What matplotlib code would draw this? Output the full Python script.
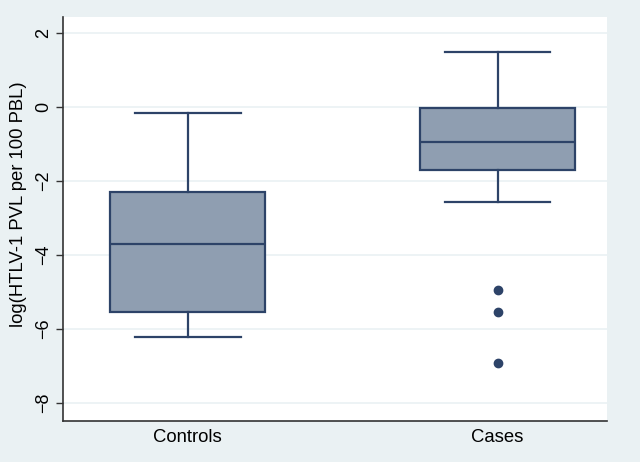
import matplotlib
matplotlib.use('Agg')
import matplotlib.pyplot as plt

# values (log scale)
groups = ['Controls', 'Cases']
whislo = [-6.22, -2.56]
q1 = [-5.53, -1.71]
med = [-3.70, -0.96]
q3 = [-2.31, -0.03]
whishi = [-0.16, 1.49]
outliers = [[], [-4.96, -5.53, -6.91]]
yticks = [2, 0, -2, -4, -6, -8]

bg = '#EAF1F3'
navy = '#2D4368'
fill = '#8F9EB1'

plt.rcParams['font.family'] = ['Liberation Sans', 'DejaVu Sans']

fig = plt.figure(figsize=(6.4, 4.62), dpi=100, facecolor=bg)
ax = fig.add_axes([0.0984, 0.0887, 0.8496, 0.8743])
ax.set_facecolor('white')

stats = []
for i in range(len(groups)):
    stats.append({'label': groups[i], 'whislo': whislo[i], 'q1': q1[i], 'med': med[i],
                  'q3': q3[i], 'whishi': whishi[i], 'fliers': outliers[i]})

ax.bxp(stats, positions=[1, 2], widths=0.5, patch_artist=True,
       boxprops=dict(facecolor=fill, edgecolor=navy, linewidth=1.6),
       medianprops=dict(color=navy, linewidth=1.6),
       whiskerprops=dict(color=navy, linewidth=1.6),
       capprops=dict(color=navy, linewidth=1.6),
       capwidths=0.34,
       flierprops=dict(marker='o', markerfacecolor=navy, markeredgecolor=navy, markersize=6))

ax.set_xlim(0.597, 2.352)
ax.set_ylim(-8.49, 2.43)
ax.set_yticks(yticks)
ax.set_yticklabels([str(t).replace('-', '\u2212') for t in yticks], rotation=90, va='center', fontsize=13)
ax.set_xticks([1, 2])
ax.set_xticklabels(groups, fontsize=13.3)
ax.tick_params(axis='x', length=0, pad=6)
ax.tick_params(axis='y', length=5, width=1, color='#333333', pad=3)
ax.set_ylabel('log(HTLV-1 PVL per 100 PBL)', fontsize=13.3)
ax.yaxis.set_label_coords(-0.066, 0.538)

ax.grid(axis='y', color=bg, linewidth=1.2)
ax.set_axisbelow(True)
for s in ['top', 'right']:
    ax.spines[s].set_visible(False)
for s in ['left', 'bottom']:
    ax.spines[s].set_color('#333333')
    ax.spines[s].set_linewidth(1.2)

fig.savefig('out.png', dpi=100, facecolor=bg)
